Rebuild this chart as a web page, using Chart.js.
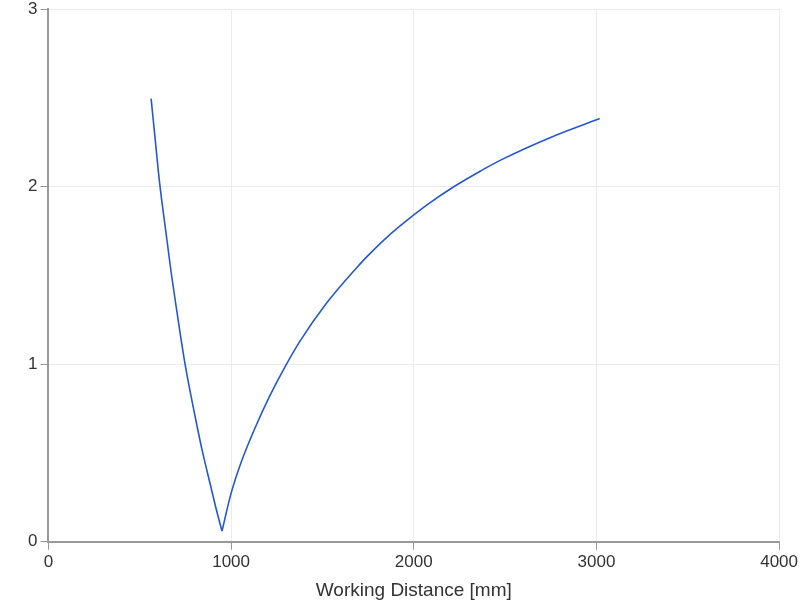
<!DOCTYPE html>
<html>
<head>
<meta charset="utf-8">
<script src="https://cdn.jsdelivr.net/npm/chart.js@4"></script>
<style>
html,body{margin:0;padding:0;background:#fff;}
#wrap{width:800px;height:602px;}
</style>
</head>
<body>
<div id="wrap"><canvas id="c" width="800" height="602"></canvas></div>
<script>
// Working distance [mm] and values
const leftDistance = [562, 584, 607, 648, 672, 699, 748, 821, 840, 889, 917, 950];
const leftValue    = [2.495, 2.27, 2.035, 1.705, 1.515, 1.325, 1.0, 0.614, 0.522, 0.31, 0.19, 0.06];
const rightDistance = [950, 999, 1055, 1128, 1211, 1302, 1379, 1525, 1680, 1745, 1854, 1964, 2082, 2219, 2366, 2475, 2749, 3018];
const rightValue    = [0.06, 0.27, 0.448, 0.634, 0.82, 0.998, 1.133, 1.347, 1.535, 1.607, 1.716, 1.811, 1.904, 1.999, 2.088, 2.149, 2.277, 2.383];
const xTicks = [0, 1000, 2000, 3000, 4000];
const yTicks = [0, 1, 2, 3];
const xTitle = 'Working Distance [mm]';

const toPts = (xs, ys) => xs.map((x, i) => ({x: x, y: ys[i]}));
const lineColor = '#2457d6';
const tickFont = {family: 'Arial, "Liberation Sans", sans-serif', size: 17};
const titleFont = {family: 'Arial, "Liberation Sans", sans-serif', size: 19};

new Chart(document.getElementById('c'), {
  type: 'line',
  data: {
    datasets: [
      {data: toPts(leftDistance, leftValue), borderColor: lineColor, borderWidth: 1.6, pointRadius: 0, cubicInterpolationMode: 'monotone', fill: false},
      {data: toPts(rightDistance, rightValue), borderColor: lineColor, borderWidth: 1.6, pointRadius: 0, cubicInterpolationMode: 'monotone', fill: false}
    ]
  },
  options: {
    responsive: false,
    animation: false,
    devicePixelRatio: 1,
    layout: {padding: {left: 25, right: 0, top: 0, bottom: 0}},
    plugins: {legend: {display: false}, tooltip: {enabled: false}},
    scales: {
      x: {
        type: 'linear', min: xTicks[0], max: xTicks[xTicks.length - 1],
        afterBuildTicks: s => { s.ticks = xTicks.map(v => ({value: v})); },
        ticks: {color: '#333', font: tickFont, padding: 2, maxRotation: 0, callback: v => String(v)},
        grid: {color: '#ebebeb', lineWidth: 1, tickLength: 8, tickColor: '#999'},
        border: {color: '#999', width: 2},
        title: {display: true, text: xTitle, color: '#333', font: titleFont, padding: {top: 5, bottom: 0}}
      },
      y: {
        type: 'linear', min: yTicks[0], max: yTicks[yTicks.length - 1],
        afterBuildTicks: s => { s.ticks = yTicks.map(v => ({value: v})); },
        afterFit: s => { s.paddingTop = 9; },
        ticks: {color: '#333', font: tickFont, padding: 3, callback: v => String(v)},
        grid: {color: '#ebebeb', lineWidth: 1, tickLength: 8, tickColor: '#999'},
        border: {color: '#999', width: 2}
      }
    }
  }
});
</script>
</body>
</html>
